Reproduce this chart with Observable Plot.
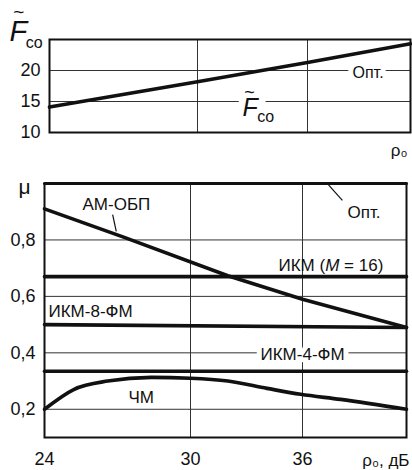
<!DOCTYPE html>
<html><head><meta charset="utf-8">
<script src="https://cdn.jsdelivr.net/npm/d3@7"></script>
<script src="https://cdn.jsdelivr.net/npm/@observablehq/plot@0.6"></script>
<style>
body{margin:0;background:#fff}
#chart{width:412px;height:470px;overflow:hidden}
#chart svg{display:block}
</style>
</head><body><div id="chart"></div>
<script>
// ---- data ----
const rhoKnots = [24, 30, 36, 42];
const rhoTicks = [24, 30, 36];
const rhoGrid = [30, 36];
const fcoTicks = [10, 15, 20];
const fcoGrid = [15, 20];
const muTicks = [0.2, 0.4, 0.6, 0.8];

const fcoRho = [24, 30, 36, 42];
const fcoVal = [14.1, 18.2, 21.3, 24.3];

const rhoEnds = [24, 42];
const optMu = [1.0, 1.0];
const ikm16Mu = [0.67, 0.67];
const ikm8Mu = [0.50, 0.49];
const ikm4Mu = [0.335, 0.335];
const amRho = [24, 27.25, 32, 36, 42];
const amMu = [0.91, 0.81, 0.673, 0.59, 0.49];
const chmRho = [24, 25.2, 26.6, 28.4, 30, 32, 34.1, 35.9, 38.2, 42];
const chmMu = [0.2, 0.27, 0.30, 0.313, 0.31, 0.30, 0.274, 0.253, 0.235, 0.2];

const rows = (xs, ys) => xs.map((x, i) => ({x, y: ys[i]}));

const ink = "#111";
const grid = {stroke: "#333", strokeOpacity: 1, strokeWidth: 1};
const thick = {x: "x", y: "y", stroke: ink, strokeWidth: 3.6, strokeLinecap: "round", strokeLinejoin: "round"};
const font = "'Liberation Sans', Arial, sans-serif";
const lbl = (t, o) => Plot.text([t], {text: d => d, fill: ink, lineAnchor: "bottom", textAnchor: "start", fontSize: 17, ...o});

// ---- top panel ----
const topPlot = Plot.plot({
  width: 412, height: 160,
  marginTop: 39, marginBottom: 28, marginLeft: 49, marginRight: 2,
  style: {fontFamily: font, fontSize: "18px", background: "white", color: ink},
  x: {type: "linear", domain: rhoKnots, range: [49, 197, 307, 410], axis: null},
  y: {domain: [10, 25]},
  marks: [
    Plot.gridY(fcoGrid, grid),
    Plot.gridX(rhoGrid, grid),
    Plot.axisY(fcoTicks, {tickSize: 0, tickPadding: 9, fontSize: 18, label: null}),
    Plot.line(rows(fcoRho, fcoVal), thick),
    Plot.frame({stroke: ink, strokeWidth: 2}),
    // axis title F~co (split into tspans below)
    lbl("F~co", {frameAnchor: "top-left", dx: -40, dy: 1, fontSize: 29}),
    // in-plot labels
    lbl("Опт.", {frameAnchor: "top-left", dx: 303, dy: 38, fontSize: 16, stroke: "white", strokeWidth: 10}),
    lbl("F~co ", {frameAnchor: "top-left", dx: 193, dy: 76, fontSize: 25, stroke: "white", strokeWidth: 14}),
    lbl("ρ₀", {frameAnchor: "bottom-right", dx: -3, dy: 23, textAnchor: "end", fontSize: 17})
  ]
});

// ---- bottom panel ----
const botPlot = Plot.plot({
  width: 412, height: 310,
  marginTop: 23, marginBottom: 33, marginLeft: 44, marginRight: 6,
  style: {fontFamily: font, fontSize: "18px", background: "white", color: ink},
  x: {type: "linear", domain: rhoKnots, range: [44, 190, 302, 406]},
  y: {domain: [0.1, 1.0]},
  marks: [
    Plot.gridY(muTicks, grid),
    Plot.gridX(rhoGrid, grid),
    Plot.axisY(muTicks, {tickSize: 0, tickPadding: 9, fontSize: 18, label: null, tickFormat: d => String(d).replace(".", ",")}),
    Plot.axisX(rhoTicks, {tickSize: 0, tickPadding: 15, fontSize: 18, label: null}),
    Plot.frame({stroke: ink, strokeWidth: 2}),
    Plot.line(rows(rhoEnds, optMu), {...thick, strokeWidth: 3}),
    Plot.line(rows(rhoEnds, ikm16Mu), thick),
    Plot.line(rows(rhoEnds, ikm8Mu), thick),
    Plot.line(rows(rhoEnds, ikm4Mu), thick),
    Plot.line(rows(amRho, amMu), thick),
    Plot.line(rows(chmRho, chmMu), {...thick, curve: "monotone-x"}),
    // leader lines
    Plot.link([{x1: 26.8, y1: 0.89, x2: 26.95, y2: 0.83}, {x1: 37.5, y1: 0.995, x2: 38.3, y2: 0.94}],
      {x1: "x1", y1: "y1", x2: "x2", y2: "y2", stroke: ink, strokeWidth: 1.2}),
    lbl("μ", {frameAnchor: "top-left", dx: -26, dy: 10, fontSize: 21}),
    lbl("АМ-ОБП", {frameAnchor: "top-left", dx: 38, dy: 26}),
    lbl("Опт.", {frameAnchor: "top-left", dx: 303, dy: 34}),
    lbl("ИКМ (M = 16)", {frameAnchor: "top-left", dx: 234, dy: 87}),
    lbl("ИКМ-8-ФМ", {frameAnchor: "top-left", dx: 4, dy: 133}),
    lbl("ИКМ-4-ФМ", {frameAnchor: "top-left", dx: 216, dy: 176, stroke: "white", strokeWidth: 10}),
    lbl("ЧМ", {frameAnchor: "top-left", dx: 84, dy: 219}),
    lbl("ρ₀, дБ", {frameAnchor: "bottom-right", dx: 3, dy: 28, textAnchor: "end", fontSize: 17})
  ]
});

// rich-text helper: replace a text's content with styled tspans
function rich(svg, content, spans) {
  d3.select(svg).selectAll("text").filter(function () { return this.textContent === content; })
    .each(function () {
      const t = d3.select(this);
      t.text(null);
      for (const s of spans) {
        const ts = t.append("tspan").text(s.t);
        for (const [k, v] of Object.entries(s)) if (k !== "t") ts.attr(k, v);
      }
    });
}
rich(botPlot, "ИКМ (M = 16)", [{t: "ИКМ ("}, {t: "M", "font-style": "italic"}, {t: " = 16)"}]);
rich(topPlot, "F~co", [
  {t: "F", "font-style": "italic"},
  {t: "~", "font-size": 19, dx: -14, dy: -23},
  {t: "co", "font-size": 16, dx: 1.5, dy: 30}
]);
rich(topPlot, "F~co ", [
  {t: "F", "font-style": "italic"},
  {t: "~", "font-size": 18, dx: -13.5, dy: -18, stroke: "none"},
  {t: "co", "font-size": 16, dx: 2.5, dy: 24, "stroke-width": 8}
]);

const chart = document.getElementById("chart");
chart.appendChild(topPlot);
chart.appendChild(botPlot);
</script>
</body></html>
